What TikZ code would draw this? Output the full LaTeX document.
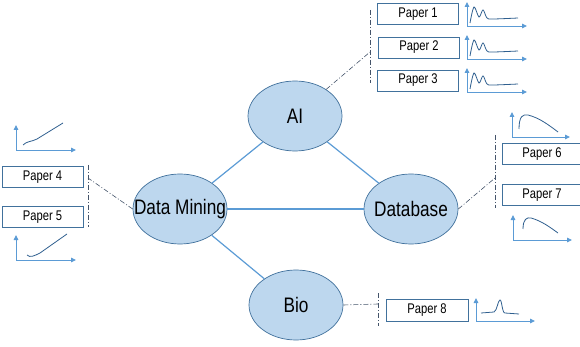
\documentclass[tikz,border=0pt]{standalone}
\usepackage{graphicx}
\usepackage{fontspec}
\setmainfont{Liberation Sans}
\usetikzlibrary{shapes.geometric,arrows.meta}
\definecolor{fillb}{HTML}{BDD7EE}
\definecolor{edgeb}{HTML}{41719C}
\definecolor{lineb}{HTML}{5B9BD5}
\definecolor{curveb}{HTML}{2F5F8F}
\definecolor{dashc}{HTML}{44546A}
\newcommand{\bigtxt}[1]{\fontsize{21}{22}\selectfont\scalebox{0.82}[1]{#1}}
\newcommand{\smalltxt}[1]{\fontsize{14}{15}\selectfont\scalebox{0.8}[1]{#1}}
\begin{document}
\begin{tikzpicture}[x=1pt,y=-1pt,
  topic/.style={ellipse, draw=edgeb, fill=fillb, line width=0.7pt, minimum width=94pt, minimum height=70pt, inner sep=0pt},
  paper/.style={rectangle, draw=edgeb, line width=0.8pt, fill=white, inner sep=0pt, minimum width=81pt, minimum height=21pt},
  link/.style={draw=lineb, line width=1.2pt},
  dd/.style={draw=dashc, line width=0.6pt, dash pattern=on 5pt off 2pt on 1pt off 2pt},
  axis/.style={draw=lineb, line width=0.9pt, -{Triangle[length=5pt,width=4.5pt]}},
  crv/.style={draw=curveb, line width=0.8pt}]
\useasboundingbox (0,0) rectangle (580,347);
\clip (0,0) rectangle (580,347);

% topic ellipses
\node[topic, label=center:{\bigtxt{AI}}] (ai) at (295,116) {};
\node[topic, label=center:{\bigtxt{Data Mining}}] (dm) at (180,209) {};
\node[topic, label=center:{\bigtxt{Database}}] (db) at (411,209) {};
\node[topic, label=center:{\bigtxt{Bio}}] (bio) at (296,305) {};

% links
\draw[link] (ai) -- (dm);
\draw[link] (ai) -- (db);
\draw[link] (dm) -- (db);
\draw[link] (dm) -- (bio);

% paper boxes
\node[paper] (p1) at (418,14) {\smalltxt{Paper 1}};
\node[paper] (p2) at (419,47.5) {\smalltxt{Paper 2}};
\node[paper] (p3) at (418,80.5) {\smalltxt{Paper 3}};
\node[paper] (p4) at (42.5,177) {\smalltxt{Paper 4}};
\node[paper] (p5) at (42.5,217) {\smalltxt{Paper 5}};
\node[paper, minimum width=80pt] (p6) at (542,154) {\smalltxt{Paper 6}};
\node[paper, minimum width=80pt] (p7) at (542,195) {\smalltxt{Paper 7}};
\node[paper, minimum width=82pt, minimum height=22pt] (p8) at (427,310) {\smalltxt{Paper 8}};

% dash-dot brackets and connectors
\coordinate (g1a) at (370,10);
\coordinate (g1b) at (370,83);
\coordinate (g1c) at (370,52);
\draw[dd] (g1a) -- (g1b);
\draw[dd] (ai) -- (g1c);

\coordinate (g4a) at (88,165);
\coordinate (g4b) at (88,227);
\coordinate (g4c) at (88,178);
\draw[dd] (g4a) -- (g4b);
\draw[dd] (dm.west) -- (g4c);

\coordinate (g6a) at (495,135);
\coordinate (g6b) at (495,208);
\coordinate (g6c) at (495,178);
\draw[dd] (g6a) -- (g6b);
\draw[dd] (db.east) -- (g6c);

\coordinate (g8a) at (378,293);
\coordinate (g8b) at (378,326);
\coordinate (g8c) at (378,304);
\draw[dd] (g8a) -- (g8b);
\draw[dd] (bio.east) -- (g8c);

% charts for papers 1-3
\foreach \y in {26,59,92}{
  \draw[axis] (467,\y) -- (467,\y-24);
  \draw[axis] (467,\y) -- (527,\y);
  \draw[crv] plot[smooth,tension=0.55] coordinates {(470,\y-3) (474,\y-19) (479,\y-9) (483,\y-16) (487,\y-8) (493,\y-7) (518,\y-8)};
}

% chart above paper 4
\draw[axis] (16,150) -- (16,125);
\draw[axis] (16,150) -- (76,150);
\draw[crv] (23,145) .. controls (27,141) and (31,142) .. (37,139) -- (63,123);

% chart below paper 5
\draw[axis] (16,260) -- (16,235);
\draw[axis] (16,260) -- (76,260);
\draw[crv] (27,255) .. controls (30,258) and (34,256) .. (40,253) -- (67,234);

% chart above paper 6
\draw[axis] (512,137) -- (512,112);
\draw[axis] (512,137) -- (570,137);
\draw[crv] (519,129) .. controls (519,116) and (523,114) .. (528,115) .. controls (540,118) and (550,126) .. (558,132);

% chart below paper 7
\draw[axis] (513,240) -- (513,215);
\draw[axis] (513,240) -- (572,240);
\draw[crv] (523,229) .. controls (523,219) and (527,217) .. (531,218) .. controls (542,221) and (551,228) .. (558,233);

% chart for paper 8
\draw[axis] (476,321) -- (476,298);
\draw[axis] (476,321) -- (535,321);
\draw[crv] (481,313) -- (494,312) .. controls (497,311) and (498,300) .. (500,300) .. controls (502,300) and (502,313) .. (505,313) -- (519,314);
\end{tikzpicture}
\end{document}
